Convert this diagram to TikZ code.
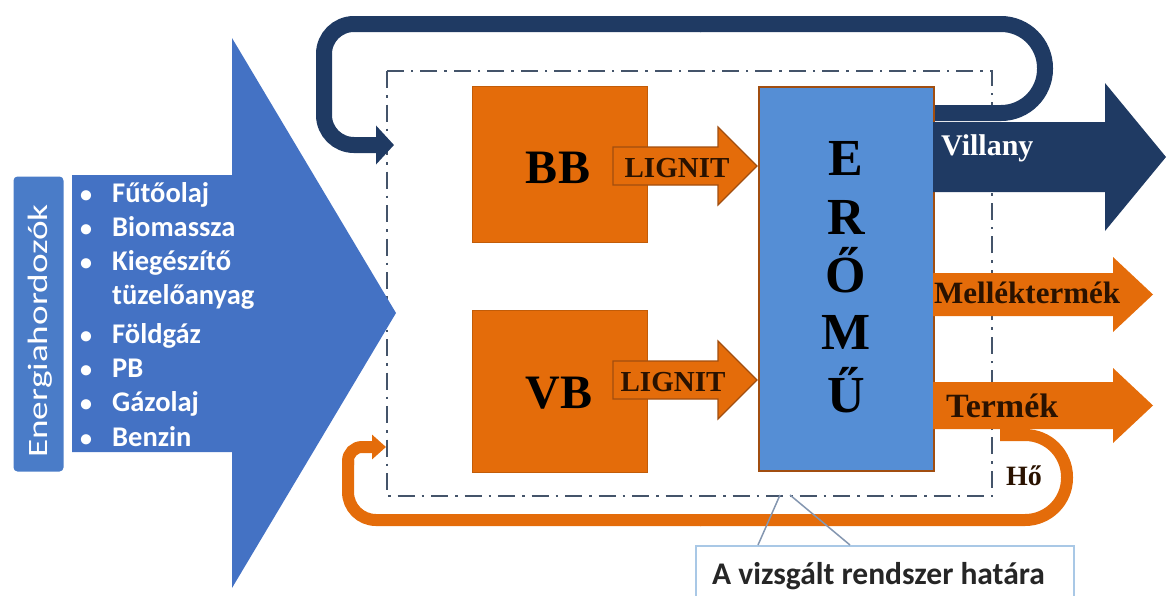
\documentclass[tikz,border=0pt]{standalone}
\usepackage{fontspec}
\setmainfont{Liberation Serif}
\newfontfamily\calfont{Carlito}
\usetikzlibrary{arrows.meta}
\definecolor{bigblue}{HTML}{4472C4}
\definecolor{labblue}{HTML}{4A7CC8}
\definecolor{navy}{HTML}{1F3A63}
\definecolor{orng}{HTML}{E46C0A}
\definecolor{orngdk}{HTML}{A14E10}
\definecolor{plant}{HTML}{558ED5}
\definecolor{bound}{HTML}{44546A}
\definecolor{callline}{HTML}{8496B0}
\definecolor{callbox}{HTML}{A9C8E6}
\definecolor{brtext}{HTML}{2A1200}
\tikzset{
  listitem/.style={anchor=base west, text=white, font=\calfont\bfseries\fontsize{28.5}{28}\selectfont, inner sep=0},
  bulletnode/.style={anchor=base, text=white, font=\calfont\bfseries\fontsize{24}{24}\selectfont, inner sep=0},
  orangebox/.style={fill=orng, draw=orng!85!black, line width=1pt, anchor=north west, inner sep=0},
  bigletter/.style={anchor=base, font=\bfseries\fontsize{52}{52}\selectfont, inner sep=0},
  lignittext/.style={anchor=base, text=brtext, font=\bfseries\fontsize{29}{29}\selectfont, inner sep=0},
  outtext/.style={anchor=base west, font=\bfseries\fontsize{31}{31}\selectfont, inner sep=0},
  smallarrow/.style={fill=orng, draw=orngdk, line width=1.2pt, line join=miter},
}
\begin{document}
\begin{tikzpicture}[x=1pt,y=-1pt]
\useasboundingbox (0,0) rectangle (1167,595);
% boundary
\draw[bound, line width=2pt, dash pattern=on 17pt off 7pt on 2.5pt off 7pt] (387,71) rectangle (992,496);
% big input arrow
\fill[bigblue] (72,175) -- (232,175) -- (232,38) -- (396,313) -- (232,588) -- (232,452) -- (72,452) -- cycle;
% label box
\node[fill=labblue, rounded corners=4pt, minimum width=50pt, minimum height=295pt, inner sep=0] (lab) at (38.5,324) {};
\node[rotate=90, xscale=1.33, text=white, font=\calfont\fontsize{28}{28}\selectfont, inner sep=0] (labtext) at (40,331) {Energiahordozók};
% list
\node[bulletnode] (b1) at (86,202) {•}; \node[listitem] (l1) at (112,202) {Fűtőolaj};
\node[bulletnode] (b2) at (86,236) {•}; \node[listitem] (l2) at (112,236) {Biomassza};
\node[bulletnode] (b3) at (86,270) {•}; \node[listitem] (l3) at (112,270) {Kiegészítő};
\node[listitem] (l4) at (112,304) {tüzelőanyag};
\node[bulletnode] (b5) at (86,343) {•}; \node[listitem] (l5) at (112,343) {Földgáz};
\node[bulletnode] (b6) at (86,377) {•}; \node[listitem] (l6) at (112,377) {PB};
\node[bulletnode] (b7) at (86,411) {•}; \node[listitem] (l7) at (112,411) {Gázolaj};
\node[bulletnode] (b8) at (86,446) {•}; \node[listitem] (l8) at (112,446) {Benzin};
% navy feedback loop
\draw[navy, line width=16pt, rounded corners=44pt] (930,113) -- (1045,113) -- (1045,24) -- (700,24);
\draw[navy, line width=16pt, rounded corners=30pt, -{Triangle[length=18pt,width=38pt]}] (701,24) -- (324,24) -- (324,145) -- (394,145);
% orange heat loop
\draw[orng, line width=12pt, rounded corners=42pt] (1000,435) -- (1067,435) -- (1067,520) -- (700,520);
\draw[orng, line width=12pt, rounded corners=28pt] (701,520) -- (348,520) -- (348,460);
\draw[orng, line width=12pt, rounded corners=14pt, -{Triangle[length=14pt,width=24pt]}] (348,465) -- (348,447) -- (386,447);
% boilers
\node[orangebox, minimum width=175pt, minimum height=156pt] (bb) at (472,86) {};
\node[orangebox, minimum width=175pt, minimum height=162pt] (vb) at (472,310) {};
\node[bigletter, font=\bfseries\fontsize{48}{48}\selectfont] (bbt) at (558,183) {BB};
\node[bigletter, font=\bfseries\fontsize{48}{48}\selectfont] (vbt) at (559,408) {VB};
% lignit arrows
\filldraw[smallarrow] (613,147) -- (718,147) -- (718,127) -- (757,166) -- (718,205) -- (718,185) -- (613,185) -- cycle;
\filldraw[smallarrow] (613,361) -- (718,361) -- (718,341) -- (757,380) -- (718,419) -- (718,399) -- (613,399) -- cycle;
\node[lignittext] (lg1) at (677,177) {LIGNIT};
\node[lignittext] (lg2) at (673,391) {LIGNIT};
% power plant
\node[fill=plant, draw=orngdk, line width=1.5pt, minimum width=175pt, minimum height=384pt, anchor=north west, inner sep=0] (plantbox) at (758,86) {};
\node[bigletter] (e1) at (846,175) {E};
\node[bigletter] (e2) at (846,234) {R};
\node[bigletter] (e3) at (846,292) {Ő};
\node[bigletter] (e4) at (846,349) {M};
\node[bigletter] (e5) at (846,412) {Ű};
% outputs
\fill[navy] (933,122) -- (1105,122) -- (1105,83) -- (1166,157) -- (1105,231) -- (1105,192) -- (933,192) -- cycle;
\node[outtext, text=white, font=\bfseries\fontsize{30}{30}\selectfont] (vill) at (941,155) {Villany};
\fill[orng] (933,273) -- (1113,273) -- (1113,257) -- (1153,294.5) -- (1113,332) -- (1113,316) -- (933,316) -- cycle;
\node[outtext, text=brtext] (mell) at (934,303) {Melléktermék};
\fill[orng] (933,382) -- (1113,382) -- (1113,368) -- (1153,405.5) -- (1113,443) -- (1113,429) -- (933,429) -- cycle;
\node[outtext, text=brtext, font=\bfseries\fontsize{34}{34}\selectfont] (term) at (946,417) {Termék};
\node[outtext, text=brtext, font=\bfseries\fontsize{28}{28}\selectfont] (ho) at (1006,485) {Hő};
% callout
\node[fill=white, draw=callbox, line width=1.5pt, minimum width=378pt, minimum height=60pt, anchor=north west, inner sep=0] (call) at (695,545) {};
\node[anchor=base west, text=black!85, font=\calfont\bfseries\fontsize{31.5}{31}\selectfont, inner sep=0] (calltext) at (712,584) {A vizsgált rendszer határa};
\coordinate (cpa) at (780,495);
\coordinate (cpb) at (790,495);
\coordinate (ca) at (758,545);
\coordinate (cb) at (850,545);
\draw[callline, line width=1.5pt] (ca) -- (cpa);
\draw[callline, line width=1.5pt] (cpb) -- (cb);
\end{tikzpicture}
\end{document}
